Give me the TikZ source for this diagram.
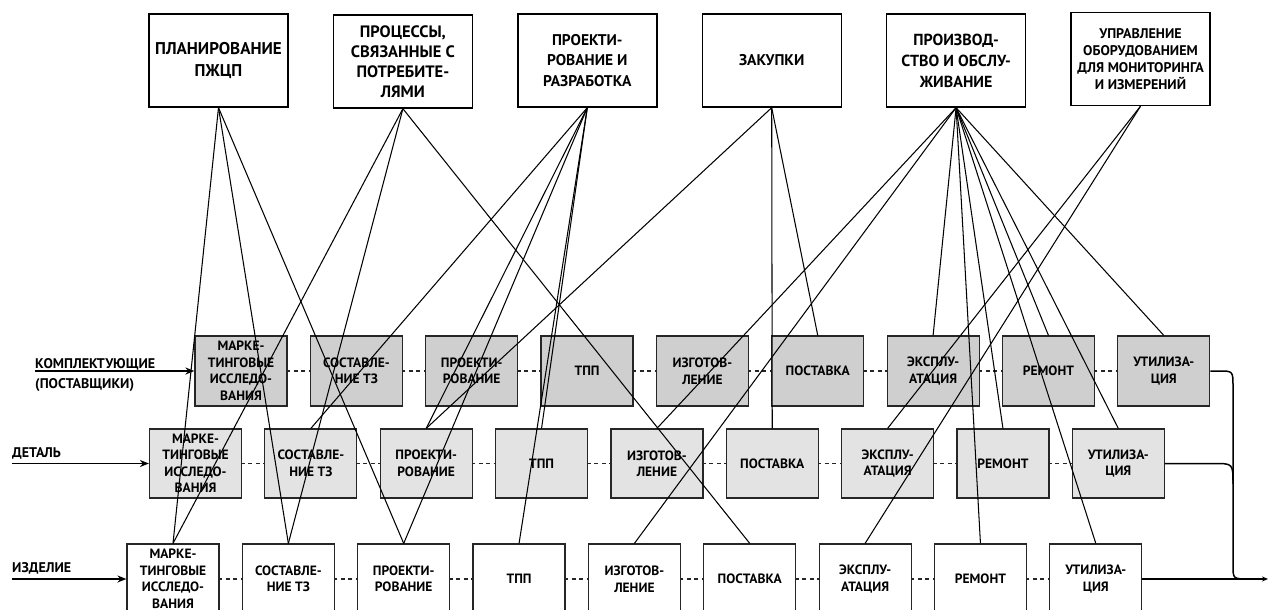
\documentclass[tikz,border=0pt]{standalone}
\usepackage{fontspec}
\setmainfont{PT Sans}
\usetikzlibrary{arrows.meta}
\begin{document}
\begin{tikzpicture}[x=1pt,y=-1pt,
  topbox/.style={draw=black, line width=1.4pt, fill=white, minimum width=139pt, minimum height=93pt, inner sep=0pt, align=center, font=\bfseries\fontsize{15.5}{20.5}\selectfont},
  rowbox/.style={draw=black!85, line width=1.2pt, minimum width=92pt, minimum height=70pt, inner sep=0pt, align=center, font=\bfseries\fontsize{13.5}{16.5}\selectfont},
  rowA/.style={rowbox, fill=black!19},
  rowB/.style={rowbox, fill=black!11, minimum height=69pt},
  rowC/.style={rowbox, fill=white},
  lbl/.style={inner sep=0pt, font=\bfseries\fontsize{14}{17}\selectfont, anchor=base west},
  conn/.style={draw=black, line width=1.05pt},
  dots/.style={draw=black!85, line width=1.2pt, dash pattern=on 4pt off 3.5pt},
  feed/.style={draw=black, line width=1.5pt, -{Stealth[length=9pt,width=7pt]}},
  merge/.style={draw=black, line width=1.5pt}
]
\useasboundingbox (0,0) rectangle (1270,610);
\clip (0,0) rectangle (1270,610);

% top boxes
\node[topbox, font=\bfseries\fontsize{17}{22}\selectfont] (t1) at (218.5,60.5) {ПЛАНИРОВАНИЕ\\ПЖЦП};
\node[topbox, font=\bfseries\fontsize{16.5}{20}\selectfont] (t2) at (402.9,61.5) {ПРОЦЕССЫ,\\СВЯЗАННЫЕ С\\ПОТРЕБИТЕ-\\ЛЯМИ};
\node[topbox] (t3) at (587.3,60.5) {ПРОЕКТИ-\\РОВАНИЕ И\\РАЗРАБОТКА};
\node[topbox] (t4) at (771.7,60.5) {ЗАКУПКИ};
\node[topbox, font=\bfseries\fontsize{16}{21}\selectfont] (t5) at (956.1,60.5) {ПРОИЗВОД-\\СТВО И ОБСЛУ-\\ЖИВАНИЕ};
\node[topbox, font=\bfseries\fontsize{14}{17}\selectfont] (t6) at (1140.5,59) {УПРАВЛЕНИЕ\\ОБОРУДОВАНИЕМ\\ДЛЯ МОНИТОРИНГА\\И ИЗМЕРЕНИЙ};

% dashed links within rows (drawn first, boxes cover their ends)
\foreach \k in {1,...,8} {
  \draw[dots] ({241+115.35*(\k-1)},371) -- ({241+115.35*\k},371);
  \draw[dots] ({195.5+115.35*(\k-1)},463.5) -- ({195.5+115.35*\k},463.5);
  \draw[dots] ({173+115.35*(\k-1)},579) -- ({173+115.35*\k},579);
}

% row boxes
\foreach \k/\txt in {1/{МАРКЕ-\\ТИНГОВЫЕ\\ИССЛЕДО-\\ВАНИЯ}, 2/{СОСТАВЛЕ-\\НИЕ ТЗ}, 3/{ПРОЕКТИ-\\РОВАНИЕ}, 4/{ТПП}, 5/{ИЗГОТОВ-\\ЛЕНИЕ}, 6/{ПОСТАВКА}, 7/{ЭКСПЛУ-\\АТАЦИЯ}, 8/{РЕМОНТ}, 9/{УТИЛИЗА-\\ЦИЯ}} {
  \node[rowA] (r1c\k) at ({241+115.35*(\k-1)},371) {\txt};
  \node[rowB] (r2c\k) at ({195.5+115.35*(\k-1)},463.5) {\txt};
  \node[rowC] (r3c\k) at ({173+115.35*(\k-1)},579) {\txt};
}

% row labels and input arrows
\node[lbl] (lk) at (35,368) {КОМПЛЕКТУЮЩИЕ};
\node[lbl] (lp) at (35,388) {(ПОСТАВЩИКИ)};
\node[lbl] (ld) at (12,457) {ДЕТАЛЬ};
\node[lbl] (li) at (12,572) {ИЗДЕЛИЕ};
\coordinate (ink) at (35,371);
\coordinate (ind) at (12,463.5);
\coordinate (ini) at (12,579);
\draw[feed] (ink) -- (r1c1.west);
\draw[feed] (ind) -- (r2c1.west);
\draw[feed] (ini) -- (r3c1.west);

% connectors from top boxes
\foreach \a/\b in {t1/r3c1, t1/r3c2, t1/r3c3,
                   t2/r3c1, t2/r3c2, t2/r3c6,
                   t3/r2c2, t3/r2c3, t3/r3c3, t3/r2c4, t3/r3c4,
                   t4/r2c3, t4/r1c6, t4/r2c6,
                   t5/r2c5, t5/r3c5, t5/r1c7, t5/r2c8, t5/r3c8, t5/r1c8, t5/r2c9, t5/r3c9, t5/r1c9,
                   t6/r2c7, t6/r3c7}
  \draw[conn] (\a.south) -- (\b.north);

% merging on the right
\coordinate (endp) at (1268,579);
\draw[merge] (r1c9.east) -- (1219,371) .. controls (1233,371) .. (1233,387) -- (1233,565) .. controls (1233,579) .. (1249,579);
\draw[merge] (r2c9.east) -- (1214,463.5) .. controls (1233,463.5) .. (1233,484);
\draw[merge, -{Stealth[length=6pt,width=5pt]}] (r3c9.east) -- (endp);
\end{tikzpicture}
\end{document}
